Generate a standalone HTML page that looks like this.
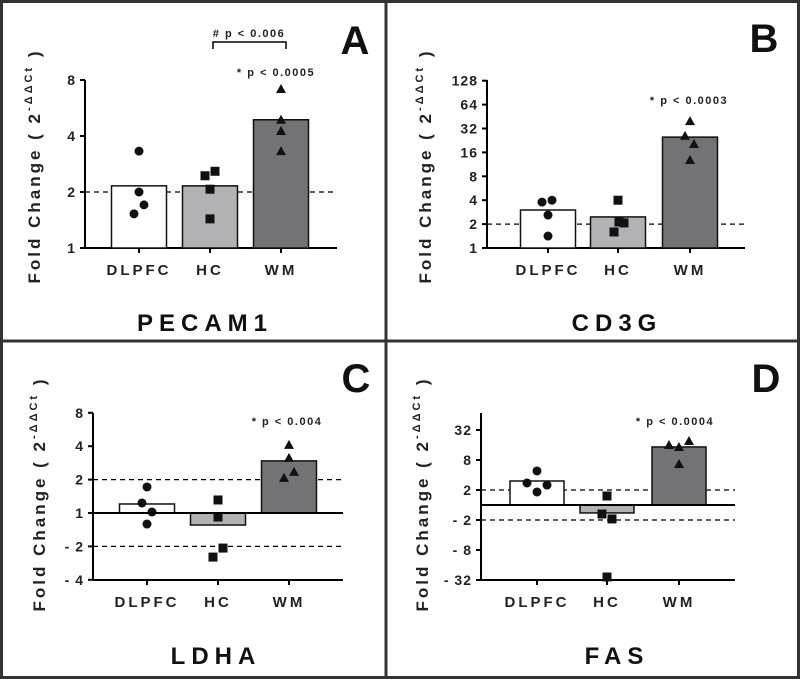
<!DOCTYPE html>
<html><head><meta charset="utf-8"><style>
html,body{margin:0;padding:0;background:#fff;}
svg{display:block;font-family:"Liberation Sans",Arial,sans-serif;}
</style></head><body>
<svg id="fig" width="800" height="679" viewBox="0 0 800 679">
<rect x="1.5" y="1.5" width="797" height="676" fill="none" stroke="#333" stroke-width="3"/>
<line x1="386" y1="0" x2="386" y2="679" stroke="#333" stroke-width="3"/>
<line x1="0" y1="341" x2="800" y2="341" stroke="#333" stroke-width="3"/>
</svg>
<script>
// categories
const categories = ["DLPFC","HC","WM"];
// values in log2 fold-change units (2^-ΔΔCt)
const pecamBars = [1.11, 1.11, 2.29];
const pecamPoints = [[1.73,1.0,0.77,0.61],[1.29,1.37,1.05,0.52],[2.84,2.29,2.09,1.73]];
const cd3gBars = [1.59, 1.30, 4.64];
const cd3gPoints = [[1.92,2.0,1.38,0.5],[2.0,1.09,1.05,0.67],[5.31,4.69,4.35,3.68]];
const ldhaBars = [0.27, -0.36, 1.56];
const ldhaPoints = [[0.78,0.30,0.03,-0.33],[0.39,-0.12,-1.05,-1.32],[2.04,1.65,1.05,1.23]];
const fasBars = [1.6, -0.53, 3.87];
const fasPoints = [[2.27,1.47,1.33,0.87],[0.6,-0.6,-0.93,-4.8],[4.0,3.87,4.27,2.73]];
// tick labels
const pecamTicks = ["1","2","4","8"];
const pecamTickVals = [0,1,2,3];
const cd3gTicks = ["1","2","4","8","16","32","64","128"];
const cd3gTickVals = [0,1,2,3,4,5,6,7];
const ldhaTicks = ["- 4","- 2","1","2","4","8"];
const ldhaTickVals = [-2,-1,0,1,2,3];
const fasTicks = ["- 32","- 8","- 2","2","8","32"];
const fasTickVals = [-5,-3,-1,1,3,5];
const pLabels = ["* p < 0.0005","* p < 0.0003","* p < 0.004","* p < 0.0004"];

const NS="http://www.w3.org/2000/svg";
const svg=document.getElementById('fig');
function mk(tag,attrs,parent){const e=document.createElementNS(NS,tag);for(const k in attrs)e.setAttribute(k,attrs[k]);(parent||svg).appendChild(e);return e;}
const fills=["#ffffff","#b2b2b4","#737375"];

function panel(o){
  const g=mk('g',{});
  
  
  const y=v=>o.y0-v*o.ppu;
  const barW=o.barW, xs=o.cx;
  const ya=mk('line',{x1:o.ax,y1:o.ytop,x2:o.ax,y2:o.ybot,stroke:'#000','stroke-width':2},g);
  
  const xa=mk('line',{x1:o.ax,y1:o.ybot,x2:o.xend,y2:o.ybot,stroke:'#000','stroke-width':2},g);
  
  o.tickVals.forEach((tv,i)=>{
    mk('line',{x1:o.ax-5,y1:y(tv),x2:o.ax,y2:y(tv),stroke:'#000','stroke-width':2},g);
    const t=mk('text',{x:o.ax-9,y:y(tv)+5,'text-anchor':'end','font-size':14,'font-weight':'bold','letter-spacing':1,fill:'#222'},g);
    t.textContent=o.ticks[i];
    
  });
  o.dashed.forEach(dv=>{
    const d=mk('line',{x1:o.ax,y1:y(dv),x2:o.xend,y2:y(dv),stroke:'#000','stroke-width':1.3,'stroke-dasharray':'5,4'},g);
    
  });
  categories.forEach((c,i)=>{
    const top=Math.min(y(0),y(o.bars[i])),h=Math.abs(y(o.bars[i])-y(0));
    const b=mk('rect',{x:xs[i]-barW/2,y:top,width:barW,height:h,fill:fills[i],stroke:'#111','stroke-width':1.5},g);
    
    mk('line',{x1:xs[i],y1:o.ybot,x2:xs[i],y2:o.ybot+5,stroke:'#000','stroke-width':2},g);
    const t=mk('text',{x:xs[i],y:o.ybot+27,'text-anchor':'middle','font-size':15,'font-weight':'bold','letter-spacing':3,fill:'#222'},g);
    t.textContent=c;
    
    o.points[i].forEach((pv,j)=>{
      const px=xs[i]+o.jit[i][j], py=y(pv);
      let m;
      if(i===0)m=mk('circle',{cx:px,cy:py,r:4.5,fill:'#111'},g);
      else if(i===1)m=mk('rect',{x:px-4.5,y:py-4.5,width:9,height:9,fill:'#111'},g);
      else m=mk('polygon',{points:`${px},${py-5} ${px-5},${py+4} ${px+5},${py+4}`,fill:'#111'},g);
      
      
    });
  });
  if(o.base){
    const bl=mk('line',{x1:o.ax,y1:y(0),x2:o.xend,y2:y(0),stroke:'#000','stroke-width':2},g);
    
  }
  const p=mk('text',{x:o.pX,y:o.pY,'text-anchor':'middle','font-size':11,'font-weight':'bold','letter-spacing':1.5,fill:'#222'},g);
  p.textContent=o.p;
  
  const L=mk('text',{x:o.LX,y:o.LY,'text-anchor':'middle','font-size':40,'font-weight':'bold',fill:'#111'},g);
  L.textContent=o.letter;
  
  const T=mk('text',{x:o.TX,y:o.TY,'text-anchor':'middle','font-size':24,'font-weight':'bold','letter-spacing':6,fill:'#111'},g);
  T.textContent=o.title;
  
  const yl=mk('text',{x:0,y:0,transform:`translate(${o.ylX},${o.ylY}) rotate(-90)`,'text-anchor':'middle','font-size':17,'font-weight':'bold','letter-spacing':3,fill:'#222'},g);
  yl.innerHTML='Fold  Change ( 2<tspan dy="-8" font-size="11">-ΔΔCt</tspan><tspan dy="8"> )</tspan>';
  
  return g;
}

panel({name:'pecam1',ax:85,ytop:80,ybot:248,y0:248,ppu:56,xend:337,cx:[139,210,281],barW:55,
  jit:[[0,0,5,-5],[-5,5,0,0],[0,0,0,0]],
  bars:pecamBars,points:pecamPoints,ticks:pecamTicks,tickVals:pecamTickVals,dashed:[1],base:false,
  p:pLabels[0],pX:276,pY:76,letter:'A',LX:355,LY:54,title:'PECAM1',TX:205,TY:331,ylX:40,ylY:166});
panel({name:'cd3g',ax:487,ytop:80,ybot:248,y0:248,ppu:23.9,xend:745,cx:[548,618,690],barW:55,
  jit:[[-6,4,0,0],[0,1,6,-4],[0,-5,4,0]],
  bars:cd3gBars,points:cd3gPoints,ticks:cd3gTicks,tickVals:cd3gTickVals,dashed:[1],base:false,
  p:pLabels[1],pX:689,pY:104,letter:'B',LX:764,LY:52,title:'CD3G',TX:617,TY:331,ylX:431,ylY:166});
panel({name:'ldha',ax:93,ytop:413,ybot:580,y0:513,ppu:33.4,xend:343,cx:[147,218,289],barW:55,
  jit:[[0,-5,5,0],[0,0,5,-5],[0,0,-5,5]],
  bars:ldhaBars,points:ldhaPoints,ticks:ldhaTicks,tickVals:ldhaTickVals,dashed:[1,-1],base:true,
  p:pLabels[2],pX:287,pY:425,letter:'C',LX:356,LY:392,title:'LDHA',TX:216,TY:664,ylX:45,ylY:494});
panel({name:'fas',ax:481,ytop:413,ybot:580,y0:505,ppu:15,xend:735,cx:[537,607,679],barW:54,
  jit:[[0,-10,10,0],[0,-5,5,0],[-10,0,10,0]],
  bars:fasBars,points:fasPoints,ticks:fasTicks,tickVals:fasTickVals,dashed:[1,-1],base:true,
  p:pLabels[3],pX:675,pY:425,letter:'D',LX:766,LY:392,title:'FAS',TX:617,TY:664,ylX:428,ylY:494});

const br=mk('path',{d:'M213,49 L213,42 L286,42 L286,49',fill:'none',stroke:'#000','stroke-width':1.5});


const bt=mk('text',{x:249,y:37,'text-anchor':'middle','font-size':11,'font-weight':'bold','letter-spacing':1.5,fill:'#222'});
bt.textContent='# p < 0.006';


</script>
</body></html>
